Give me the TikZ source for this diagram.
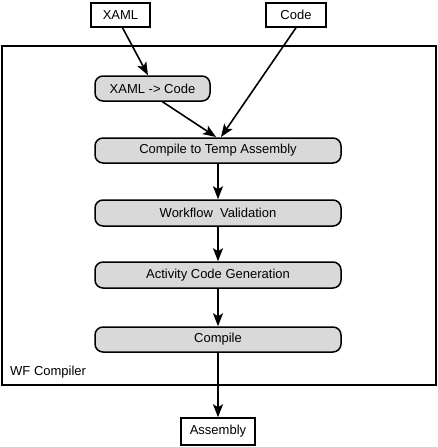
\documentclass[tikz,border=0pt]{standalone}
\usepackage{fontspec}
\setmainfont{Liberation Sans}
\usetikzlibrary{arrows.meta}
\definecolor{boxgray}{RGB}{217,217,217}
\tikzset{
  every node/.style={font=\fontsize{13}{15}\selectfont, inner sep=0pt},
  plainbox/.style={draw, line width=1.5pt, fill=white},
  stepbox/.style={draw, line width=1.5pt, fill=boxgray, rounded corners=8pt},
  arr/.style={line width=1.6pt, -{Stealth[length=13pt, width=10pt, inset=3pt]}}
}
\begin{document}
\begin{tikzpicture}[x=1pt, y=-1pt]
\useasboundingbox (0,0) rectangle (438,447);
\draw[line width=1.5pt] (2,46) rectangle (436,385);
\node[plainbox, minimum width=59pt, minimum height=24pt] (xaml) at (120.5,15) {XAML};
\node[plainbox, minimum width=60pt, minimum height=24pt] (code) at (296,15) {Code};
\node[stepbox, minimum width=115pt, minimum height=25pt] (x2c) at (152.5,88.5) {XAML -> Code};
\node[stepbox, minimum width=246pt, minimum height=25pt] (temp) at (218,150.5) {Compile to Temp Assembly};
\node[stepbox, minimum width=246pt, minimum height=26pt] (valid) at (218,213) {Workflow\ \ Validation};
\node[stepbox, minimum width=246pt, minimum height=26pt] (gen) at (218,275) {Activity Code Generation};
\node[stepbox, minimum width=246pt, minimum height=25pt] (comp) at (218,339.5) {Compile};
\node[anchor=west] (wf) at (10,372) {WF Compiler};
\node[plainbox, minimum width=74pt, minimum height=27pt] (asm) at (218,431.5) {Assembly};
\coordinate (t1) at (216,137);
\coordinate (t2) at (221,137);
\draw[arr] ([xshift=2pt]xaml.south) -- ([xshift=-4.5pt]x2c.north);
\draw[arr] ([xshift=10pt]x2c.south) -- (t1);
\draw[arr] (code.south) -- (t2);
\draw[arr] (temp) -- (valid);
\draw[arr] (valid) -- (gen);
\draw[arr] (gen) -- (comp);
\draw[arr] (comp.south) -- (asm.north);
\end{tikzpicture}
\end{document}
